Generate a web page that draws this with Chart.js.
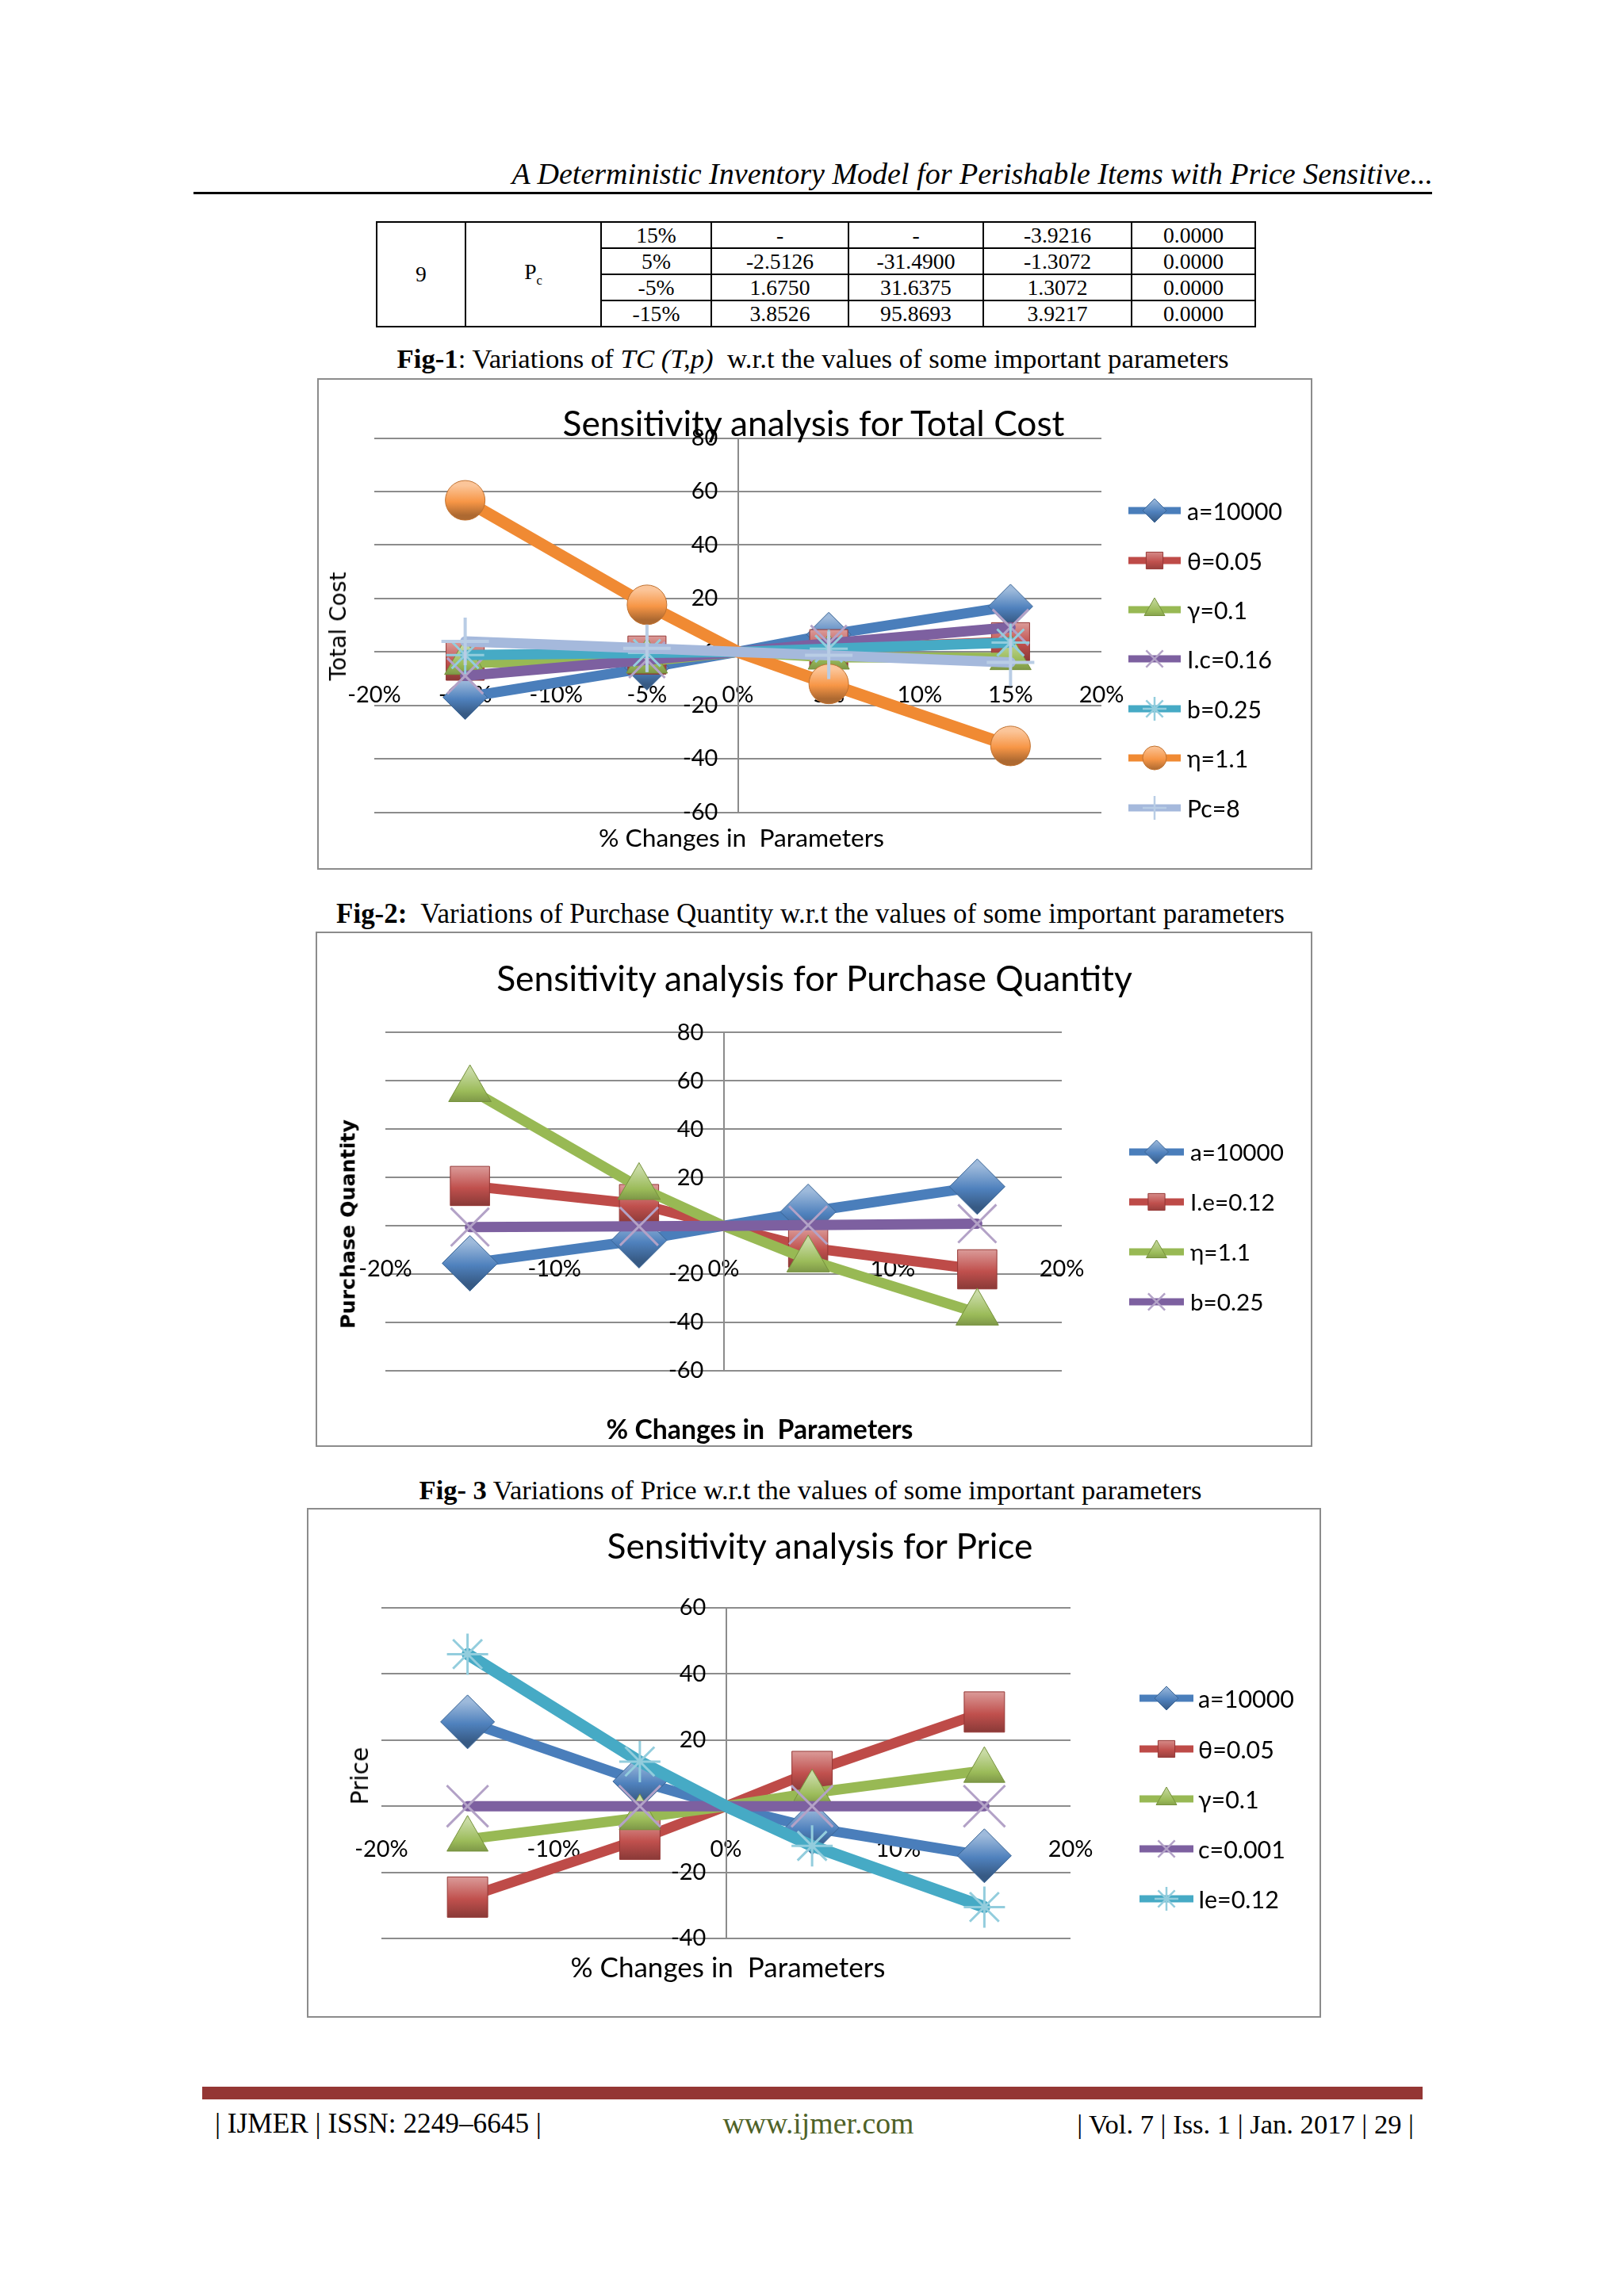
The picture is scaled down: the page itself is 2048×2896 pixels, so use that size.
<!DOCTYPE html>
<html>
<head>
<meta charset="utf-8">
<title>Sensitivity analysis</title>
<script src="https://cdn.jsdelivr.net/npm/chart.js@4.4.1/dist/chart.umd.min.js"></script>
<style>
  html, body { margin: 0; padding: 0; background: #fff; }
  body { position: relative; width: 2048px; height: 2896px; overflow: hidden; color: #000;
         font-family: "Liberation Serif", "Times New Roman", serif; }
  .t { position: absolute; white-space: nowrap; line-height: 1; }
  .box { position: absolute; box-sizing: border-box; border: 2px solid #8c8c8c; background: #fff; }
  canvas.plot { position: absolute; }
  .rule { position: absolute; }
  table.param { position: absolute; left: 474px; top: 279px; border-collapse: collapse; table-layout: fixed; }
  table.param td { border: 2px solid #000; text-align: center; padding: 0; height: 31px; line-height: 1; }
</style>
</head>
<body>

<div class="rule" style="left:244px;top:242px;width:1562px;height:3px;background:#000"></div>
<div class="rule" style="left:255px;top:2632px;width:1539px;height:16px;background:#943634"></div>

<div class="box" style="left:400px;top:477px;width:1255px;height:620px"></div>
<div class="box" style="left:398px;top:1175px;width:1257px;height:650px"></div>
<div class="box" style="left:387px;top:1902px;width:1279px;height:643px"></div>

<canvas class="plot" id="tcChart"></canvas>
<canvas class="plot" id="pqChart"></canvas>
<canvas class="plot" id="prChart"></canvas>

<script>
// ---- data (values are % change) ----
const pctChanges = [-15, -5, 0, 5, 15];

// Fig-1 : Total Cost
const tcLabels = ['a=10000', 'θ=0.05', 'γ=0.1', 'I.c=0.16', 'b=0.25', 'η=1.1', 'Pc=8'];
const tcA     = [-17, -6, 0, 6.5, 17];
const tcTheta = [-3.5, -1.2, 0, 1.2, 3.8];
const tcGamma = [-4, -3.5, 0, -2, -2.2];
const tcIc    = [-9, -3, 0, 3.2, 9.2];
const tcB     = [-1.2, -0.4, 0, 1.2, 3.5];
const tcEta   = [56.7, 17.6, 0, -12, -35.2];
const tcPc    = [3.9217, 1.3072, 0, -1.3072, -3.9216];
const tcXTicks = [-20, -15, -10, -5, 0, 5, 10, 15, 20];
const tcYTicks = [-60, -40, -20, 0, 20, 40, 60, 80];

// Fig-2 : Purchase Quantity
const pqLabels = ['a=10000', 'I.e=0.12', 'η=1.1', 'b=0.25'];
const pqA   = [-15.5, -6, 0, 5.8, 16.2];
const pqIe  = [16.5, 9, 0, -9, -18];
const pqEta = [56.5, 16, 0, -14, -36];
const pqB   = [-0.5, -0.2, 0, 0.3, 0.9];
const pqXTicks = [-20, -10, 0, 10, 20];
const pqYTicks = [-60, -40, -20, 0, 20, 40, 60, 80];

// Fig-3 : Price
const prLabels = ['a=10000', 'θ=0.05', 'γ=0.1', 'c=0.001', 'Ie=0.12'];
const prA     = [25.5, 7.5, 0, -6.5, -15];
const prTheta = [-27.5, -10, 0, 10.5, 28.5];
const prGamma = [-10, -3.5, 0, 4, 10.8];
const prC     = [0, 0, 0, 0, 0];
const prIe    = [46, 13.5, 0, -12, -30.5];
const prXTicks = [-20, -10, 0, 10, 20];
const prYTicks = [-40, -20, 0, 20, 40, 60];

// table rows of the page (Pc block)
const tableRows = [
  ['15%', '-', '-', '-3.9216', '0.0000'],
  ['5%', '-2.5126', '-31.4900', '-1.3072', '0.0000'],
  ['-5%', '1.6750', '31.6375', '1.3072', '0.0000'],
  ['-15%', '3.8526', '95.8693', '3.9217', '0.0000']
];

// ---- styles ----
const CAL = 'Lato, Carlito, "Open Sans", sans-serif';
const VER = '"DejaVu Sans", Verdana, sans-serif';
const TMS = '"Liberation Serif", "Times New Roman", serif';

const STY = {
  blue:   { line: '#4A7EBB', fill: '#4F81BD', edge: '#3A6596', shape: 'rectRot',  bw: 1 },
  red:    { line: '#BE4B48', fill: '#C0504D', edge: '#953735', shape: 'rect',     bw: 1 },
  green:  { line: '#98B954', fill: '#9BBB59', edge: '#76923C', shape: 'triangle', bw: 1 },
  purple: { line: '#7D60A0', fill: '#8064A2', edge: '#B3A2C7', shape: 'crossRot', bw: 3 },
  aqua:   { line: '#46AAC5', fill: '#4BACC6', edge: '#93CDDD', shape: 'star',     bw: 3 },
  orange: { line: '#F08A33', fill: '#F79646', edge: '#C0712F', shape: 'circle',   bw: 1 },
  pale:   { line: '#A5B9DC', fill: '#A5B9DC', edge: '#B9CDE5', shape: 'cross',    bw: 4 }
};

function shade(hex, amt) {
  const n = parseInt(hex.slice(1), 16);
  let r = n >> 16, g = (n >> 8) & 255, b = n & 255;
  const f = v => Math.round(amt >= 0 ? v + (255 - v) * amt : v * (1 + amt));
  return 'rgb(' + f(r) + ',' + f(g) + ',' + f(b) + ')';
}

function markerFill(base, r) {
  return ctx => {
    if (!ctx.parsed || !ctx.chart.scales.y) return base;
    const y = ctx.chart.scales.y.getPixelForValue(ctx.parsed.y);
    if (!isFinite(y)) return base;
    const g = ctx.chart.ctx.createLinearGradient(0, y - r, 0, y + r);
    g.addColorStop(0, shade(base, 0.45));
    g.addColorStop(0.55, base);
    g.addColorStop(1, shade(base, -0.3));
    return g;
  };
}

function series(label, values, st, r, lw, idx, n) {
  return {
    label: label,
    data: pctChanges.map((x, i) => ({ x: x, y: values[i] })),
    showLine: true,
    borderColor: st.line,
    borderWidth: lw,
    borderCapStyle: 'round',
    borderJoinStyle: 'round',
    pointStyle: st.shape,
    pointRadius: pctChanges.map(x => x === 0 ? 0 : r),
    pointHoverRadius: pctChanges.map(x => x === 0 ? 0 : r),
    pointBackgroundColor: markerFill(st.fill, r * 0.75),
    pointBorderColor: st.edge,
    pointBorderWidth: st.bw,
    order: n - idx
  };
}

// ---- text helpers ----
function place(html, o) {
  const el = document.createElement('div');
  el.className = 't';
  el.innerHTML = html;
  el.style.fontFamily = o.family;
  el.style.fontWeight = o.weight || 'normal';
  el.style.fontStyle = o.style || 'normal';
  el.style.color = o.color || '#000';
  el.style.fontSize = '100px';
  document.body.appendChild(el);
  const size = o.width ? 100 * o.width / el.getBoundingClientRect().width : o.size;
  el.style.fontSize = size.toFixed(2) + 'px';
  const ax = { left: '0', center: '-50%', right: '-100%' }[o.anchor || 'center'];
  el.style.left = o.x + 'px';
  el.style.top = o.y + 'px';
  el.style.transform = 'translate(' + ax + ', -50%)' + (o.rotate ? ' rotate(-90deg)' : '');
  return size;
}

const meas = document.createElement('canvas').getContext('2d');
function fitSize(text, family, weight, width) {
  meas.font = weight + ' 100px ' + family;
  return 100 * width / meas.measureText(text).width;
}

function swatch(st, x0, x1, cy, r) {
  const w = Math.round(x1 - x0), h = Math.round(2 * r + 10);
  const cv = document.createElement('canvas');
  cv.width = w; cv.height = h;
  cv.style.position = 'absolute';
  cv.style.left = x0 + 'px';
  cv.style.top = (cy - h / 2) + 'px';
  const c = cv.getContext('2d');
  c.strokeStyle = st.line; c.lineWidth = 9;
  c.beginPath(); c.moveTo(0, h / 2); c.lineTo(w, h / 2); c.stroke();
  const g = c.createLinearGradient(0, h / 2 - r, 0, h / 2 + r);
  g.addColorStop(0, shade(st.fill, 0.45)); g.addColorStop(0.55, st.fill); g.addColorStop(1, shade(st.fill, -0.3));
  c.fillStyle = g; c.strokeStyle = st.edge; c.lineWidth = Math.min(st.bw, 2.5);
  if (Chart.helpers && Chart.helpers.drawPoint) {
    Chart.helpers.drawPoint(c, { pointStyle: st.shape, radius: r, rotation: 0, borderWidth: c.lineWidth }, w / 2, h / 2);
  }
  document.body.appendChild(cv);
}

// ---- chart builder ----
function buildChart(id, box, area, xTicks, yTicks, datasets, tickSize) {
  const cv = document.getElementById(id);
  cv.width = box.w; cv.height = box.h;
  cv.style.left = box.x + 'px'; cv.style.top = box.y + 'px';
  return new Chart(cv, {
    type: 'scatter',
    data: { datasets: datasets },
    options: {
      responsive: false,
      animation: false,
      devicePixelRatio: 1,
      layout: { padding: {
        left: area.x0 - box.x, right: box.x + box.w - area.x1,
        top: area.y0 - box.y, bottom: box.y + box.h - area.y1 } },
      plugins: { legend: { display: false }, tooltip: { enabled: false } },
      scales: {
        x: {
          type: 'linear', min: xTicks[0], max: xTicks[xTicks.length - 1],
          position: { y: 0 },
          afterBuildTicks: s => { s.ticks = xTicks.map(v => ({ value: v })); },
          grid: { display: false, drawTicks: false },
          border: { display: false },
          ticks: { color: '#000', padding: 37, maxRotation: 0, autoSkip: false,
                   font: { family: CAL, size: tickSize }, callback: v => v + '%' }
        },
        y: {
          type: 'linear', min: yTicks[0], max: yTicks[yTicks.length - 1],
          position: { x: 0 },
          afterBuildTicks: s => { s.ticks = yTicks.map(v => ({ value: v })); },
          grid: { color: '#8c8c8c', lineWidth: 2, drawTicks: false },
          border: { display: true, color: '#8c8c8c', width: 2 },
          ticks: { color: '#000', autoSkip: false,
                   font: { family: CAL, size: tickSize }, callback: v => v + '\u2003\u2009' }
        }
      }
    }
  });
}

// ---- page header, table, captions, footer ----
place('A Deterministic Inventory Model for Perishable Items with Price Sensitive...',
      { x: 1807, y: 219, anchor: 'right', family: TMS, style: 'italic', width: 1162 });

(function () {
  const widths = [112, 171, 139, 173, 170, 187, 156];
  const tsize = fitSize('-31.4900', TMS, 'normal', 99);
  const tb = document.createElement('table');
  tb.className = 'param';
  tb.style.fontSize = tsize.toFixed(2) + 'px';
  tb.style.width = widths.reduce((a, b) => a + b, 0) + 'px';
  const cg = document.createElement('colgroup');
  widths.forEach(w => { const c = document.createElement('col'); c.style.width = w + 'px'; cg.appendChild(c); });
  tb.appendChild(cg);
  tableRows.forEach((row, i) => {
    const tr = document.createElement('tr');
    if (i === 0) {
      tr.innerHTML = '<td rowspan="4">9</td><td rowspan="4">P<sub style="font-size:60%">c</sub></td>';
    }
    row.forEach(v => { const td = document.createElement('td'); td.textContent = v; tr.appendChild(td); });
    tb.appendChild(tr);
  });
  document.body.appendChild(tb);
})();

place('<b>Fig-1</b>: Variations of <i>TC (T,p)</i>&nbsp; w.r.t the values of some important parameters',
      { x: 1025, y: 453, family: TMS, width: 1049 });
place('<b>Fig-2:</b>&nbsp; Variations of Purchase Quantity w.r.t the values of some important parameters',
      { x: 1022, y: 1153, family: TMS, width: 1196 });
place('<b>Fig- 3</b> Variations of Price w.r.t the values of some important parameters',
      { x: 1022, y: 1879, family: TMS, width: 987 });

place('| IJMER | ISSN: 2249–6645 |', { x: 271, y: 2679, anchor: 'left', family: TMS, width: 412 });
place('www.ijmer.com', { x: 1032, y: 2679, family: TMS, width: 241, color: '#4F6228' });
place('| Vol. 7 | Iss. 1 | Jan. 2017 | 29 |', { x: 1783, y: 2679, anchor: 'right', family: TMS, width: 425 });

// ---- Fig-1 chart ----
const tickSize = fitSize('-10%', CAL, 'normal', 67.5);
{
  const sty = [STY.blue, STY.red, STY.green, STY.purple, STY.aqua, STY.orange, STY.pale];
  const vals = [tcA, tcTheta, tcGamma, tcIc, tcB, tcEta, tcPc];
  const rad = [28, 34, 30, 32, 24, 25, 30];
  const ds = tcLabels.map((l, i) => series(l, vals[i], sty[i], rad[i], i === 5 ? 15 : 13, i, tcLabels.length));
  buildChart('tcChart', { x: 400, y: 477, w: 1255, h: 620 }, { x0: 472, x1: 1389, y0: 552.5, y1: 1024.5 },
             tcXTicks, tcYTicks, ds, tickSize);
  place('Sensitivity analysis for Total Cost', { x: 1026, y: 533, family: CAL, width: 633 });
  place('Total Cost', { x: 427, y: 790, family: VER, width: 137, rotate: true });
  place('% Changes in&nbsp; Parameters', { x: 935, y: 1057, family: CAL, width: 360 });
  const rows = [644, 707, 769, 831, 894, 956, 1019];
  let ls = 0;
  tcLabels.forEach((l, i) => {
    swatch(sty[i], 1423, 1489, rows[i], 15);
    if (i === 0) ls = place(l, { x: 1497, y: rows[i], anchor: 'left', family: CAL, width: 120 });
    else place(l, { x: 1497, y: rows[i], anchor: 'left', family: CAL, size: ls });
  });
}

// ---- Fig-2 chart ----
{
  const sty = [STY.blue, STY.red, STY.green, STY.purple];
  const vals = [pqA, pqIe, pqEta, pqB];
  const rad = [35, 35, 31, 34];
  const ds = pqLabels.map((l, i) => series(l, vals[i], sty[i], rad[i], 13, i, pqLabels.length));
  buildChart('pqChart', { x: 398, y: 1175, w: 1257, h: 650 }, { x0: 486, x1: 1339, y0: 1302.4, y1: 1729 },
             pqXTicks, pqYTicks, ds, tickSize);
  place('Sensitivity analysis for Purchase Quantity', { x: 1027, y: 1233, family: CAL, width: 802 });
  place('Purchase Quantity', { x: 439, y: 1544, family: VER, weight: 'bold', width: 264, rotate: true });
  place('% Changes in&nbsp; Parameters', { x: 958, y: 1803, family: CAL, weight: 'bold', width: 387 });
  const rows = [1453, 1516, 1579, 1642];
  let ls = 0;
  pqLabels.forEach((l, i) => {
    swatch(sty[i], 1424, 1493, rows[i], 15);
    if (i === 0) ls = place(l, { x: 1501, y: rows[i], anchor: 'left', family: CAL, width: 118 });
    else place(l, { x: 1501, y: rows[i], anchor: 'left', family: CAL, size: ls });
  });
}

// ---- Fig-3 chart ----
{
  const sty = [STY.blue, STY.red, STY.green, STY.purple, STY.aqua];
  const vals = [prA, prTheta, prGamma, prC, prIe];
  const rad = [34, 36, 30, 37, 26];
  const ds = prLabels.map((l, i) => series(l, vals[i], sty[i], rad[i], i === 4 ? 15 : 13, i, prLabels.length));
  buildChart('prChart', { x: 387, y: 1902, w: 1279, h: 643 }, { x0: 481, x1: 1350, y0: 2028, y1: 2445 },
             prXTicks, prYTicks, ds, tickSize);
  place('Sensitivity analysis for Price', { x: 1034, y: 1949, family: CAL, width: 537 });
  place('Price', { x: 454, y: 2240, family: VER, width: 73, rotate: true });
  place('% Changes in&nbsp; Parameters', { x: 918, y: 2481, family: CAL, width: 397 });
  const rows = [2142, 2206, 2269, 2332, 2395];
  let ls = 0;
  prLabels.forEach((l, i) => {
    swatch(sty[i], 1437, 1505, rows[i], 15);
    if (i === 0) ls = place(l, { x: 1511, y: rows[i], anchor: 'left', family: CAL, width: 121 });
    else place(l, { x: 1511, y: rows[i], anchor: 'left', family: CAL, size: ls });
  });
}
</script>
</body>
</html>
